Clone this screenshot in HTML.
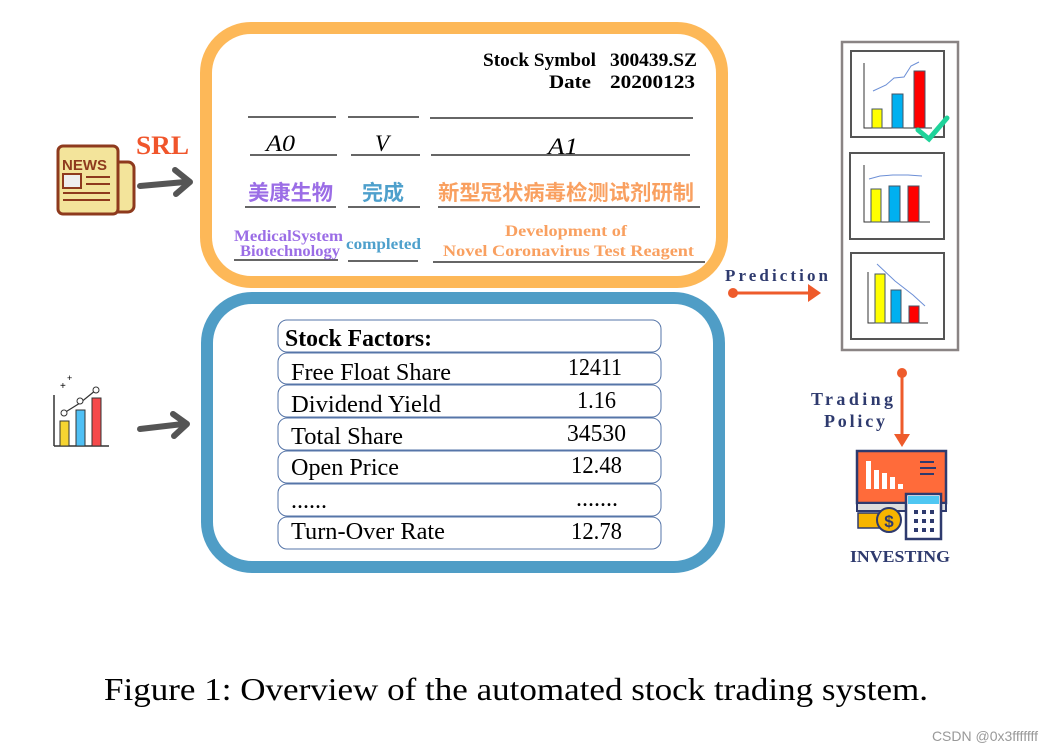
<!DOCTYPE html>
<html><head><meta charset="utf-8"><style>
body{margin:0;background:#fff;width:1054px;height:753px;overflow:hidden}
svg{display:block}
.s{font-family:"Liberation Serif",serif}
.c{font-family:"Liberation Sans","Noto Sans CJK SC",sans-serif;font-weight:bold}
</style></head><body>
<svg width="1054" height="753" viewBox="0 0 1054 753" xmlns="http://www.w3.org/2000/svg">
<rect x="206" y="28" width="516" height="254" rx="45" fill="#fff" stroke="#FDB858" stroke-width="12"/>
<rect x="207" y="298" width="512" height="269" rx="45" fill="#fff" stroke="#4F9DC6" stroke-width="12"/>
<g class="s" font-weight="bold" font-size="19" lengthAdjust="spacingAndGlyphs">
<text x="483" y="66" textLength="113" lengthAdjust="spacingAndGlyphs">Stock Symbol</text><text x="610" y="66" textLength="87" lengthAdjust="spacingAndGlyphs">300439.SZ</text>
<text x="549" y="88" textLength="42" lengthAdjust="spacingAndGlyphs">Date</text><text x="610" y="88" textLength="85" lengthAdjust="spacingAndGlyphs">20200123</text>
</g>
<g stroke="#333" stroke-width="1.5">
<line x1="248" y1="117" x2="336" y2="117"/><line x1="348" y1="117" x2="419" y2="117"/><line x1="430" y1="118" x2="693" y2="118"/>
<line x1="250" y1="155" x2="337" y2="155"/><line x1="351" y1="155" x2="420" y2="155"/><line x1="431" y1="155" x2="690" y2="155"/>
<line x1="245" y1="207" x2="336" y2="207"/><line x1="348" y1="207" x2="420" y2="207"/><line x1="438" y1="207" x2="700" y2="207"/>
<line x1="234" y1="260" x2="338" y2="260"/><line x1="348" y1="261" x2="418" y2="261"/><line x1="433" y1="262" x2="705" y2="262"/>
</g>
<g class="s" font-style="italic" font-size="23">
<text x="266" y="151" textLength="29" lengthAdjust="spacingAndGlyphs">A0</text><text x="375" y="151">V</text><text x="548" y="154" textLength="30" lengthAdjust="spacingAndGlyphs">A1</text>
</g>
<g class="c" font-size="21">
<text x="248" y="200" fill="#9B6DE6" textLength="85" lengthAdjust="spacingAndGlyphs">美康生物</text>
<text x="362" y="200" fill="#4EA0CC" textLength="42" lengthAdjust="spacingAndGlyphs">完成</text>
<text x="438" y="200" fill="#F9A060" textLength="256" lengthAdjust="spacingAndGlyphs">新型冠状病毒检测试剂研制</text>
</g>
<g class="s" font-weight="bold" font-size="16">
<text x="234" y="241" fill="#9B6DE6" textLength="109" lengthAdjust="spacingAndGlyphs">MedicalSystem</text>
<text x="240" y="256" fill="#9B6DE6" textLength="100" lengthAdjust="spacingAndGlyphs">Biotechnology</text>
<text x="346" y="249" fill="#4EA0CC" textLength="75" lengthAdjust="spacingAndGlyphs">completed</text>
<text x="505" y="236" fill="#F9A060" textLength="122" lengthAdjust="spacingAndGlyphs">Development of</text>
<text x="443" y="256" fill="#F9A060" textLength="251" lengthAdjust="spacingAndGlyphs">Novel Coronavirus Test Reagent</text>
</g>
<text x="136" y="154" class="s" font-weight="bold" font-size="26" fill="#F0552B" textLength="53" lengthAdjust="spacingAndGlyphs">SRL</text>
<g>
<rect x="112" y="162" width="22" height="50" rx="6" fill="#F3E49B" stroke="#8E3A1D" stroke-width="3"/>
<rect x="58" y="146" width="60" height="68" rx="5" fill="#F3E49B" stroke="#8E3A1D" stroke-width="3"/>
<text x="62" y="170" font-family="Liberation Sans,sans-serif" font-weight="bold" font-size="15" fill="#8E3A1D">NEWS</text>
<rect x="63" y="174" width="18" height="14" fill="#eee" stroke="#8E3A1D" stroke-width="2"/>
<g stroke="#8E3A1D" stroke-width="2"><line x1="86" y1="177" x2="110" y2="177"/><line x1="86" y1="184" x2="110" y2="184"/><line x1="63" y1="193" x2="110" y2="193"/><line x1="63" y1="200" x2="110" y2="200"/></g>
</g>
<path d="M140 186 L185 182" stroke="#555" stroke-width="6" fill="none" stroke-linecap="round"/>
<path d="M175 170 L190 182 L176 194" stroke="#555" stroke-width="6" fill="none" stroke-linecap="round" stroke-linejoin="round"/>
<g>
<line x1="54" y1="395" x2="54" y2="446" stroke="#333" stroke-width="1.5"/>
<line x1="54" y1="446" x2="109" y2="446" stroke="#333" stroke-width="1.5"/>
<rect x="60" y="421" width="9" height="25" fill="#F6D431" stroke="#333"/>
<rect x="76" y="410" width="9" height="36" fill="#4FC0F5" stroke="#333"/>
<rect x="92" y="398" width="9" height="48" fill="#F5494B" stroke="#333"/>
<polyline points="64,413 80,403 96,390" fill="none" stroke="#333" stroke-width="1.2"/>
<circle cx="64" cy="413" r="3" fill="#fff" stroke="#333"/><circle cx="80" cy="401" r="3" fill="#fff" stroke="#333"/><circle cx="96" cy="390" r="3" fill="#fff" stroke="#333"/>
<text x="60" y="389" font-size="10" font-family="Liberation Sans">+</text><text x="67" y="381" font-size="9" font-family="Liberation Sans">+</text>
</g>
<path d="M140 429 L183 424" stroke="#555" stroke-width="6" fill="none" stroke-linecap="round"/>
<path d="M173 414 L187 424 L174 436" stroke="#555" stroke-width="6" fill="none" stroke-linecap="round" stroke-linejoin="round"/>
<g fill="#fff" stroke="#5675A8" stroke-width="1">
<rect x="278" y="320" width="383" height="32" rx="9"/>
<rect x="278" y="353" width="383" height="31" rx="9"/>
<rect x="278" y="385" width="383" height="32" rx="9"/>
<rect x="278" y="418" width="383" height="32" rx="9"/>
<rect x="278" y="451" width="383" height="32" rx="9"/>
<rect x="278" y="484" width="383" height="32" rx="9"/>
<rect x="278" y="517" width="383" height="32" rx="9"/>
</g>
<g class="s" font-size="24">
<text x="285" y="346" font-weight="bold" textLength="147" lengthAdjust="spacingAndGlyphs">Stock Factors:</text>
<text x="291" y="380" textLength="160" lengthAdjust="spacingAndGlyphs">Free Float Share</text><text x="568" y="375" textLength="54" lengthAdjust="spacingAndGlyphs">12411</text>
<text x="291" y="412" textLength="150" lengthAdjust="spacingAndGlyphs">Dividend Yield</text><text x="577" y="408" textLength="39" lengthAdjust="spacingAndGlyphs">1.16</text>
<text x="291" y="444" textLength="112" lengthAdjust="spacingAndGlyphs">Total Share</text><text x="567" y="441" textLength="59" lengthAdjust="spacingAndGlyphs">34530</text>
<text x="291" y="475" textLength="108" lengthAdjust="spacingAndGlyphs">Open Price</text><text x="571" y="473" textLength="51" lengthAdjust="spacingAndGlyphs">12.48</text>
<text x="291" y="508">......</text><text x="576" y="506">.......</text>
<text x="291" y="539" textLength="154" lengthAdjust="spacingAndGlyphs">Turn-Over Rate</text><text x="571" y="539" textLength="51" lengthAdjust="spacingAndGlyphs">12.78</text>
</g>
<text x="725" y="281" class="s" font-weight="bold" font-size="17" fill="#2E3A6E" textLength="103" lengthAdjust="spacing">Prediction</text>
<line x1="733" y1="293" x2="810" y2="293" stroke="#EE5B2B" stroke-width="3"/>
<circle cx="733" cy="293" r="5" fill="#EE5B2B"/>
<path d="M808 284 L821 293 L808 302 Z" fill="#EE5B2B"/>
<rect x="842" y="42" width="116" height="308" fill="#fff" stroke="#8A8484" stroke-width="2.5"/>
<g fill="#fff" stroke="#555" stroke-width="2">
<rect x="851" y="51" width="93" height="86"/>
<rect x="850" y="153" width="94" height="86"/>
<rect x="851" y="253" width="93" height="86"/>
</g>
<g stroke="#333" stroke-width="1" fill="none">
<polyline points="864,63 864,128 932,128"/><polyline points="864,165 864,222 930,222"/><polyline points="868,272 868,323 928,323"/>
</g>
<g stroke="#456" stroke-width="1">
<rect x="872" y="109" width="10" height="19" fill="#FFFF00"/><rect x="892" y="94" width="11" height="34" fill="#00B0F0"/><rect x="914" y="71" width="11" height="57" fill="#FF0000"/>
<rect x="871" y="189" width="10" height="33" fill="#FFFF00"/><rect x="889" y="186" width="11" height="36" fill="#00B0F0"/><rect x="908" y="186" width="11" height="36" fill="#FF0000"/>
<rect x="875" y="274" width="10" height="49" fill="#FFFF00"/><rect x="891" y="290" width="10" height="33" fill="#00B0F0"/><rect x="909" y="306" width="10" height="17" fill="#FF0000"/>
</g>
<g stroke="#6C8FD6" stroke-width="1" fill="none">
<polyline points="873,91 886,85 894,78 904,77 911,66 919,62"/>
<polyline points="869,179 880,176 893,175 908,175 922,176"/>
<polyline points="877,264 895,281 913,295 925,306"/>
</g>
<path d="M918 130 L929 139 L947 118" stroke="#1FD39A" stroke-width="5" fill="none" stroke-linecap="round"/>
<line x1="902" y1="373" x2="902" y2="436" stroke="#EE5B2B" stroke-width="3"/>
<circle cx="902" cy="373" r="5" fill="#EE5B2B"/>
<path d="M894 434 L910 434 L902 447 Z" fill="#EE5B2B"/>
<g class="s" font-weight="bold" font-size="18" fill="#2E3A6E">
<text x="811" y="405" textLength="82" lengthAdjust="spacing">Trading</text><text x="824" y="427" textLength="61" lengthAdjust="spacing">Policy</text>
</g>
<g>
<rect x="857" y="451" width="89" height="52" fill="#FF6B3A" stroke="#2E3A6E" stroke-width="2.5"/>
<g fill="#fff"><rect x="866" y="461" width="5" height="28"/><rect x="874" y="470" width="5" height="19"/><rect x="882" y="473" width="5" height="16"/><rect x="890" y="477" width="5" height="12"/><rect x="898" y="484" width="5" height="5"/></g>
<g stroke="#2E3A6E" stroke-width="2"><line x1="920" y1="462" x2="934" y2="462"/><line x1="920" y1="468" x2="936" y2="468"/><line x1="920" y1="474" x2="934" y2="474"/></g>
<rect x="857" y="503" width="89" height="8" fill="#ddd" stroke="#2E3A6E" stroke-width="2"/>
<rect x="906" y="494" width="35" height="45" fill="#fff" stroke="#2E3A6E" stroke-width="2.5"/>
<rect x="908" y="496" width="31" height="8" fill="#4FC7F2"/>
<g fill="#2E3A6E"><rect x="914" y="510" width="4" height="4"/><rect x="922" y="510" width="4" height="4"/><rect x="930" y="510" width="4" height="4"/><rect x="914" y="519" width="4" height="4"/><rect x="922" y="519" width="4" height="4"/><rect x="930" y="519" width="4" height="4"/><rect x="914" y="528" width="4" height="4"/><rect x="922" y="528" width="4" height="4"/><rect x="930" y="528" width="4" height="4"/></g>
<rect x="858" y="513" width="22" height="15" fill="#F7B500" stroke="#2E3A6E" stroke-width="1.5"/>
<circle cx="889" cy="520" r="12" fill="#F7B500" stroke="#2E3A6E" stroke-width="2"/>
<text x="889" y="527" text-anchor="middle" font-family="Liberation Sans" font-weight="bold" font-size="17" fill="#2E3A6E">$</text>
</g>
<text x="850" y="562" class="s" font-weight="bold" font-size="17" fill="#2E3A6E" textLength="100" lengthAdjust="spacingAndGlyphs">INVESTING</text>
<text x="104" y="700" class="s" font-size="32" fill="#000" textLength="824" lengthAdjust="spacingAndGlyphs">Figure 1: Overview of the automated stock trading system.</text>
<text x="1038" y="741" text-anchor="end" font-family="Liberation Sans,sans-serif" font-size="14" fill="#999">CSDN @0x3fffffff</text>
</svg>
</body></html>
